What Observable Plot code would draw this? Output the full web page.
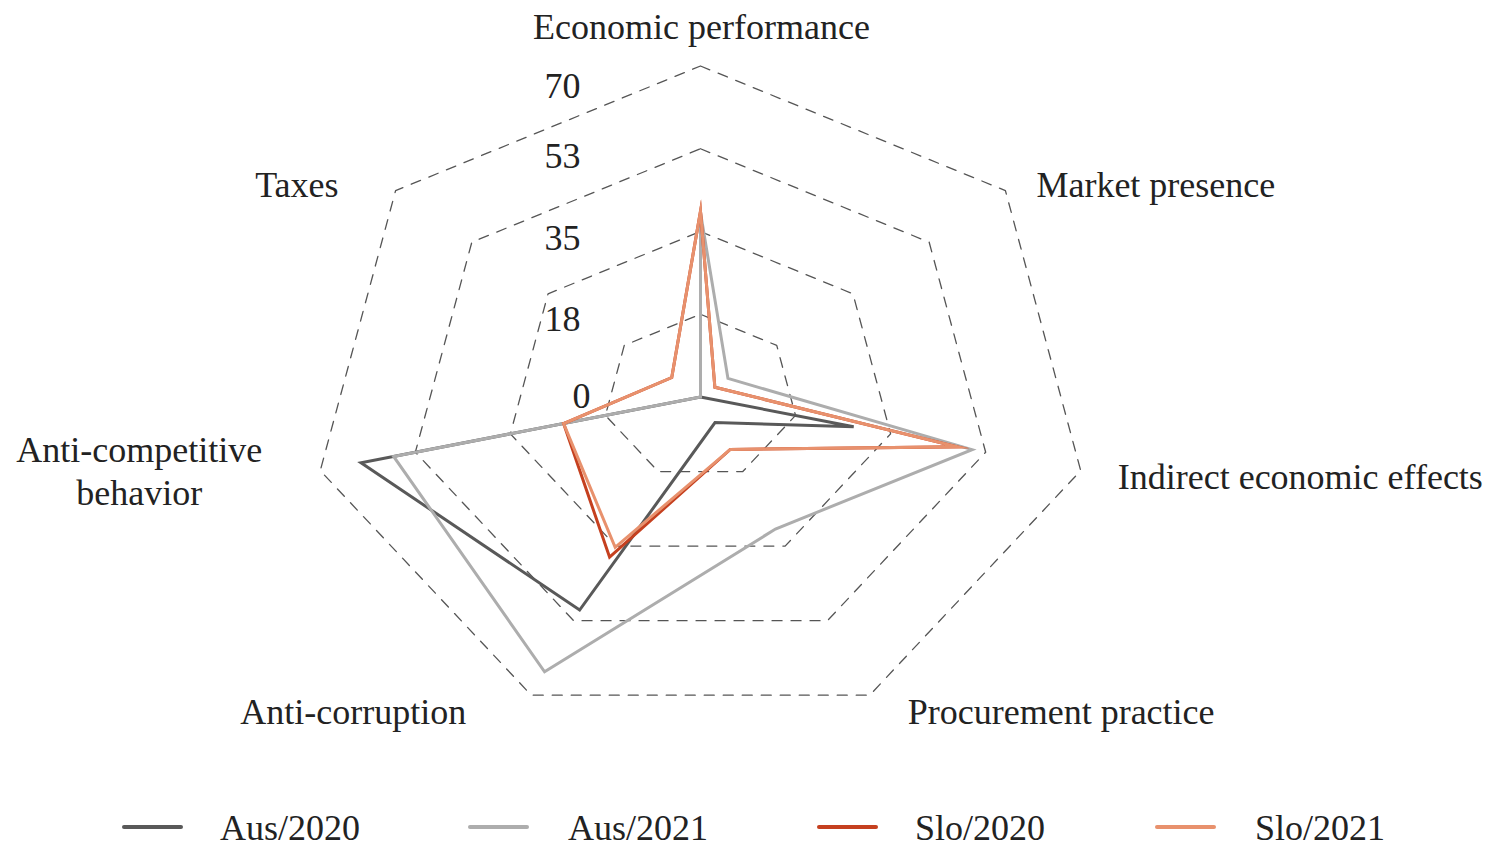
<!DOCTYPE html>
<html>
<head>
<meta charset="utf-8">
<script src="https://cdn.jsdelivr.net/npm/d3@7"></script>
<script src="https://cdn.jsdelivr.net/npm/@observablehq/plot@0.6"></script>
<style>
  html, body { margin: 0; padding: 0; background: #fff; }
  body { font-family: "Liberation Serif", "Times New Roman", serif; width: 1492px; }
  #legend { position: relative; width: 1492px; height: 47px; }
  #legend .sw { position: absolute; top: 25px; width: 61px; height: 4px; border-radius: 2px; }
  #legend .lb { position: absolute; top: 13px; font-size: 36px; line-height: 30px; color: #222; white-space: nowrap; }
</style>
</head>
<body>
<div id="chart"></div>
<div id="legend"></div>
<script>
// ---- data ----
const axes = ["Economic performance", "Market presence", "Indirect economic effects",
              "Procurement practice", "Anti-corruption", "Anti-competitive behavior", "Taxes"];
const seriesNames = ["Aus/2020", "Aus/2021", "Slo/2020", "Slo/2021"];
const aus2020 = [0, 0, 28.2, 6, 50, 62.5, 0];
const aus2021 = [39, 6.3, 50, 31, 64.5, 56.5, 0];
const slo2020 = [39.3, 3.3, 47.3, 12.3, 37.6, 25.2, 6.6];
const slo2021 = [39.3, 3.3, 47.3, 12.3, 35.3, 25.2, 6.6];
const ringTicks = [0, 17.5, 35, 52.5, 70];
const ringLabels = ["0", "18", "35", "53", "70"];
const radarMax = 70;

// ---- style / layout ----
const colors = ["#595959", "#adadad", "#c5401f", "#e8916d"];
const W = 1492, H = 800;
const CX = 700, CY = 396.5, RX = 390, RY = 331;
const n = axes.length;
const ang = i => Math.PI / 2 - i * 2 * Math.PI / n;
const pt = (v, i) => ({ ux: (v / radarMax) * Math.cos(ang(i)), uy: (v / radarMax) * Math.sin(ang(i)) });

const seriesValues = [aus2020, aus2021, slo2020, slo2021];
const lineRows = seriesValues.flatMap((vals, s) =>
  vals.map((v, i) => ({ series: seriesNames[s], axis: axes[i], value: v, ...pt(v, i) })));
const ringRows = ringTicks.slice(1).flatMap(t => axes.map((a, i) => ({ ring: t, ...pt(t, i) })));
const tickRows = ringTicks.map((t, k) => ({ t, label: ringLabels[k], k }));

// pixel offsets for ring tick labels (down, right-edge)
const tickDy = [-1, 5, 7, 8, 20];
const tickDx = [-110, -120, -120, -120, -120];

// axis name label placement (relative to outer vertex, pixels)
const axisLabelStyle = [
  { dx: 1, dy: -41, anchor: "middle" },
  { dx: 31, dy: -7, anchor: "start" },
  { dx: 37, dy: 5, anchor: "start" },
  { dx: 38, dy: 15, anchor: "start" },
  { dx: -65, dy: 15, anchor: "end" },
  { dx: -181, dy: -1, anchor: "middle" },
  { dx: -57, dy: -7, anchor: "end" }
];
const axisText = name => name === "Anti-competitive behavior" ? "Anti-competitive\nbehavior" : name;

const axisMarks = axes.map((name, i) => {
  const s = axisLabelStyle[i];
  return Plot.text([{ name, ...pt(radarMax, i) }], {
    x: "ux", y: "uy", text: d => axisText(d.name),
    textAnchor: s.anchor, lineAnchor: "middle", lineHeight: 1.2,
    dx: s.dx, dy: s.dy, fontSize: 36, fill: "#222"
  });
});

const chart = Plot.plot({
  width: W, height: H, margin: 0,
  style: { fontFamily: "'Liberation Serif', 'Times New Roman', serif", background: "#fff" },
  x: { type: "linear", domain: [-CX / RX, (W - CX) / RX], axis: null },
  y: { type: "linear", domain: [(CY - H) / RY, CY / RY], axis: null },
  color: { domain: seriesNames, range: colors },
  marks: [
    Plot.line(ringRows, {
      x: "ux", y: "uy", z: "ring", curve: "linear-closed",
      stroke: "#555", strokeWidth: 1.3, strokeDasharray: "10,9"
    }),
    Plot.line(lineRows, {
      x: "ux", y: "uy", z: "series", stroke: "series", curve: "linear-closed",
      strokeWidth: 3, strokeLinejoin: "miter", strokeMiterlimit: 10
    }),
    Plot.text(tickRows, {
      x: d => tickDx[d.k] / RX, y: d => d.t / radarMax - tickDy[d.k] / RY,
      text: "label", textAnchor: "end", lineAnchor: "middle",
      fontSize: 36, fill: "#222"
    }),
    ...axisMarks
  ]
});
document.getElementById("chart").appendChild(chart);

// ---- legend ----
const swLeft = [122, 468, 817, 1155];
const lbLeft = [220, 568, 915, 1255];
const legend = document.getElementById("legend");
seriesNames.forEach((name, i) => {
  const sw = document.createElement("span");
  sw.className = "sw";
  sw.style.left = swLeft[i] + "px";
  sw.style.background = colors[i];
  legend.appendChild(sw);
  const lb = document.createElement("span");
  lb.className = "lb";
  lb.style.left = lbLeft[i] + "px";
  lb.textContent = name;
  legend.appendChild(lb);
});
</script>
</body>
</html>
